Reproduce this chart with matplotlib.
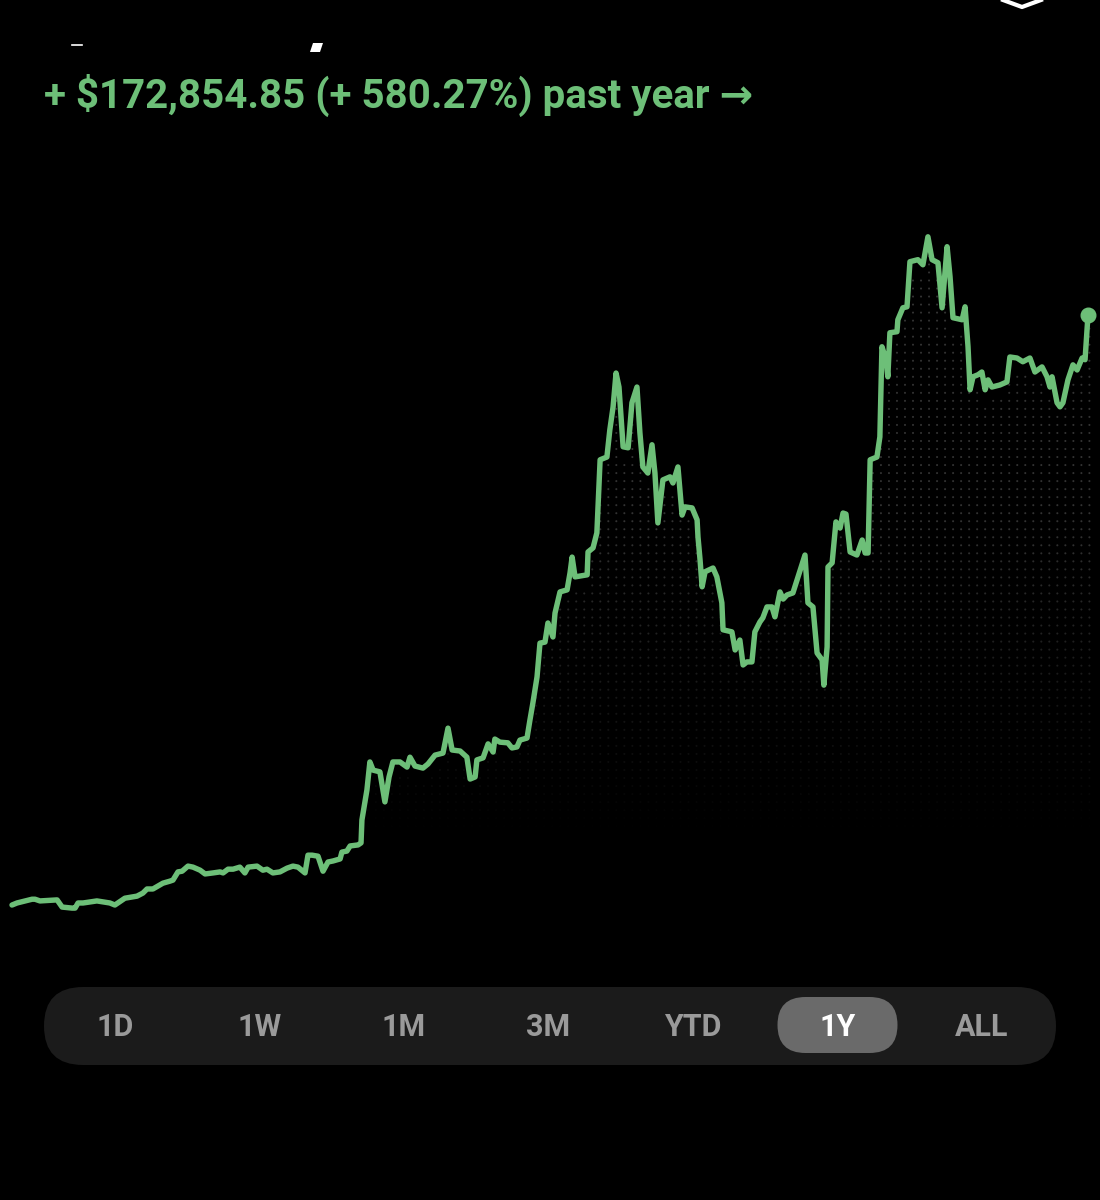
import numpy as np
import matplotlib
matplotlib.use('Agg')
import matplotlib.pyplot as plt
from matplotlib.patches import FancyBboxPatch

# portfolio value over the past year (day of year, value in $k)
days = [0.0, 1.7, 6.8, 7.8, 9.5, 15.3, 17.0, 20.4, 21.4, 22.4, 24.1, 28.8, 33.2, 34.9,
        38.3, 42.4, 44.4, 45.8, 47.8, 51.2, 53.6, 54.6, 56.3, 57.7, 59.7, 61.4, 63.8,
        65.5, 68.2, 70.6, 71.6, 73.3, 75.0, 77.3, 79.0, 80.1, 83.1, 85.1, 86.5, 88.5,
        90.9, 93.3, 95.3, 97.0, 98.7, 99.4, 100.4, 101.8, 103.8, 105.5, 107.2, 108.9,
        111.3, 111.9, 113.6, 114.7, 117.4, 118.4, 118.7, 120.4, 121.4, 122.5, 124.8,
        126.5, 127.9, 129.2, 131.6, 134.0, 135.0, 136.7, 139.4, 141.1, 143.5, 146.2,
        147.9, 149.3, 152.0, 154.3, 155.4, 157.1, 157.7, 159.8, 161.5, 163.2, 163.8,
        165.5, 168.2, 169.6, 171.3, 172.3, 174.7, 175.7, 176.7, 178.1, 179.1, 180.8,
        181.8, 183.5, 184.2, 185.9, 188.3, 189.3, 190.0, 191.0, 195.1, 195.4, 197.1,
        198.4, 199.5, 201.8, 202.8, 203.9, 204.9, 205.9, 207.3, 209.0, 210.3, 212.0,
        213.0, 214.0, 215.7, 217.1, 218.1, 219.1, 220.8, 223.2, 224.2, 225.9, 227.3,
        228.3, 230.7, 232.4, 232.7, 233.4, 234.1, 235.1, 237.8, 239.1, 240.8, 241.2,
        244.2, 245.3, 246.9, 248.0, 249.3, 251.0, 252.0, 253.7, 254.7, 256.1, 257.8,
        258.8, 260.5, 261.6, 262.9, 264.9, 266.3, 269.0, 270.0, 271.7, 273.1, 274.8,
        275.4, 276.5, 276.8, 278.2, 279.5, 280.9, 281.9, 282.9, 284.3, 286.6, 288.4,
        289.4, 290.4, 291.1, 293.4, 294.4, 295.1, 296.5, 297.1, 297.8, 300.2, 300.5,
        302.2, 303.6, 304.6, 307.3, 309.0, 310.7, 312.1, 314.1, 315.5, 317.2, 318.2,
        319.2, 322.3, 323.3, 324.3, 325.0, 326.0, 327.7, 329.0, 330.1, 331.1, 332.4,
        335.1, 337.5, 338.5, 340.9, 342.9, 345.3, 347.0, 349.4, 351.1, 352.1, 352.8,
        354.5, 355.5, 356.5, 358.2, 359.9, 361.3, 363.0, 364.0, 365.0]
values_k = [29.8, 30.4, 31.5, 31.5, 31.0, 31.3, 29.2, 28.9, 28.9, 30.4, 30.4, 31.0, 30.4, 29.8,
            31.8, 32.4, 33.3, 34.5, 34.5, 36.2, 36.8, 37.1, 39.5, 39.7, 41.2, 40.9, 40.0,
            38.9, 39.2, 39.5, 39.2, 40.3, 40.3, 40.9, 39.2, 40.9, 41.2, 40.0, 40.3, 39.2,
            39.5, 40.6, 41.2, 40.9, 39.7, 39.2, 44.4, 44.4, 44.1, 39.7, 42.4, 42.7,
            43.3, 45.3, 45.6, 47.1, 47.4, 48.0, 54.7, 63.5, 71.7, 69.3, 68.8,
            60.0, 67.3, 71.7, 71.7, 70.2, 73.1, 70.5, 69.9, 71.1, 73.7, 74.3,
            81.6, 75.2, 74.9, 73.1, 66.7, 67.3, 72.3, 72.9, 77.0, 74.6, 78.4,
            77.5, 77.3, 75.8, 76.1, 78.1, 78.7, 84.0, 89.0, 96.6, 106.5, 106.8,
            112.4, 108.3, 115.3, 121.5, 122.1, 127.1, 131.7, 125.9, 126.5, 133.2, 134.4,
            138.8, 160.2, 161.0, 169.0, 175.7, 185.6, 181.5, 164.0, 163.7, 176.9, 181.5,
            168.1, 158.1, 156.3, 164.6, 156.3, 141.7, 154.3, 155.2, 153.4, 158.1, 144.0,
            146.4, 146.1, 142.6, 137.6, 130.9, 123.0, 127.4, 128.5, 125.9, 118.3, 110.4,
            109.8, 104.5, 107.4, 100.1, 101.0, 101.0, 109.8, 112.7, 113.9, 117.1, 117.1,
            114.2, 121.5, 119.4, 120.6, 121.2, 125.0, 132.3, 118.3, 117.1, 103.6, 101.6,
            94.2, 105.4, 128.8, 130.0, 142.0, 140.2, 144.6, 144.3, 133.2, 132.3, 136.7,
            132.9, 132.9, 160.2, 161.0, 166.9, 193.3, 189.5, 184.5, 197.4, 197.7, 201.2,
            204.7, 205.0, 218.2, 218.8, 217.3, 225.5, 218.8, 217.9, 204.7, 222.6, 213.8,
            201.8, 201.2, 205.0, 193.3, 180.7, 184.5, 185.1, 185.9, 180.7, 183.6, 181.5,
            182.1, 183.0, 190.3, 190.0, 188.9, 190.0, 185.9, 187.4, 184.5, 181.5, 184.5,
            176.9, 175.7, 176.9, 183.6, 188.0, 186.5, 190.0, 189.5, 202.6]

header = '+ $172,854.85 (+ 580.27%) past year \u2192'
ranges = ['1D', '1W', '1M', '3M', 'YTD', '1Y', 'ALL']
selected = '1Y'

GREEN = '#6dbf78'
BG = 'black'
FONT = ['Roboto', 'DejaVu Sans']

fig = plt.figure(figsize=(11, 12), dpi=100, facecolor=BG)

# chart area
ax = fig.add_axes([0, 0.2, 1, 0.6667])
ax.set_facecolor(BG)
x = np.array(days)
y = np.array(values_k)
ax.set_xlim(-4.07, 369.07)
ax.set_ylim(13.7, 248.0)
ax.axis('off')

# dotted fill under the line, fading toward the bottom
gx, gy = np.meshgrid(np.arange(1.0, 366, 2.72), np.arange(20.0, 240, 2.35))
gx, gy = gx.ravel(), gy.ravel()
under = gy < np.interp(gx, x, y) - 3.5
gx, gy = gx[under], gy[under]
fade = np.clip((gy - 50) / 90, 0, 1) * 0.9
cols = np.zeros((len(gx), 4))
cols[:, :3] = 0.22
cols[:, 3] = fade
ax.scatter(gx, gy, s=2.2, c=cols, linewidths=0, zorder=1)

ax.plot(x, y, color=GREEN, lw=3.9, solid_joinstyle='round', solid_capstyle='round', zorder=3)
ax.plot(x[-1], y[-1], 'o', color=GREEN, ms=10.5, zorder=4)

# overlay for header and range selector, in pixel units
ov = fig.add_axes([0, 0, 1, 1], facecolor='none')
ov.set_xlim(0, 1100)
ov.set_ylim(1200, 0)
ov.axis('off')

ov.text(44, 95, header, color=GREEN, fontsize=29, fontweight='bold',
        family=FONT, va='center', ha='left')

# bits of the cropped title / icon at the top
ov.plot([72, 82], [45, 45], color='white', lw=1.2)
ov.fill([313, 323, 320, 310], [43, 43, 52, 52], color='white', lw=0)
ov.plot([1003, 1022, 1041], [0, 7, 0], color='white', lw=3, solid_joinstyle='round')

bar = FancyBboxPatch((44, 987), 1012, 78, boxstyle='round,pad=0,rounding_size=39',
                     fc='#1b1b1b', ec='none')
ov.add_patch(bar)

for i, lab in enumerate(ranges):
    cx = 115 + i * 144.5
    if lab == selected:
        ov.add_patch(FancyBboxPatch((cx - 60, 997), 120, 56,
                                    boxstyle='round,pad=0,rounding_size=28',
                                    fc='#6a6a6a', ec='none'))
        color = 'white'
    else:
        color = '#9a9a9a'
    ov.text(cx, 1027, lab, color=color, fontsize=22, fontweight='bold',
            family=FONT, ha='center', va='center')

fig.savefig('out.png', dpi=100, facecolor=BG)
